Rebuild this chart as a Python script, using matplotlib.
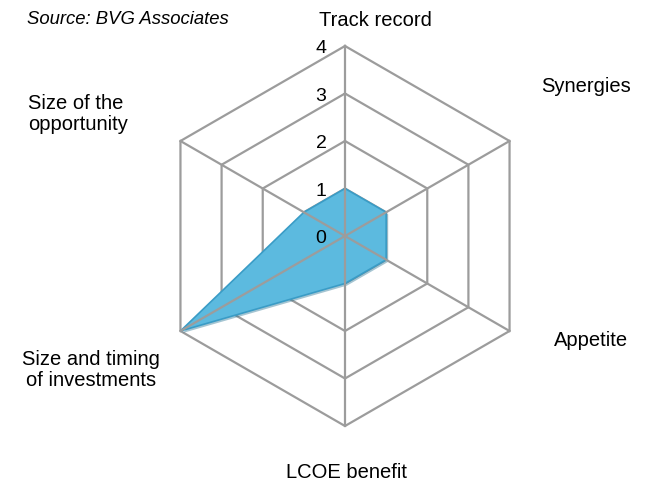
import numpy as np
import matplotlib.pyplot as plt
from matplotlib import patheffects

categories = ['Track record', 'Synergies', 'Appetite', 'LCOE benefit',
              'Size and timing\nof investments', 'Size of the\nopportunity']
scores = [1, 1, 1, 1, 4, 1]
rings = [1, 2, 3, 4]
ring_labels = ['0', '1', '2', '3', '4']

plt.rcParams['font.family'] = ['Liberation Sans', 'DejaVu Sans']

W, H = 646, 484
fig = plt.figure(figsize=(W / 100, H / 100), dpi=100)

# polar axes placed so the centre / outer ring match the reference
cx, cy, R = 345, 236, 190
ax = fig.add_axes([(cx - R) / W, (H - cy - R) / H, 2 * R / W, 2 * R / H],
                  projection='polar')
ax.set_theta_zero_location('N')
ax.set_theta_direction(-1)
ax.set_ylim(0, 4)
ax.axis('off')

angles = np.linspace(0, 2 * np.pi, len(categories), endpoint=False)
closed = np.append(angles, angles[0])
vals = scores + scores[:1]

poly = ax.fill(closed, vals, facecolor='#5cbadf', edgecolor='#3a9cc6',
               lw=1.2, zorder=2)[0]
poly.set_path_effects([
    patheffects.SimplePatchShadow(offset=(1.5, -1.5), shadow_rgbFace='#1f6f90', alpha=0.4),
    patheffects.Normal()])

# hexagonal grid: rings sit under the fill, spokes on top of it
grid_kw = dict(color='#9c9c9c', lw=1.6, clip_on=False)
for r in rings:
    ax.plot(closed, [r] * len(closed), zorder=1, **grid_kw)
for a in angles:
    ax.plot([a, a], [0, rings[-1]], zorder=3, **grid_kw)

# ring value labels next to the vertical spoke
for i, lab in enumerate(ring_labels):
    ax.annotate(lab, xy=(0, i), xytext=(-24, -3), textcoords='offset pixels',
                ha='center', va='center', fontsize=14, annotation_clip=False)

# category labels
def px(x, y):
    return x / W, 1 - y / H

lab_pos = [(375, 20, 'center'), (586, 87, 'center'), (591, 341, 'center'),
           (347, 472, 'center'), (91, 370, 'center'), (28, 114, 'left')]
for name, (x, y, ha) in zip(categories, lab_pos):
    fig.text(*px(x, y), name, ha=ha, va='center', fontsize=14.5,
             linespacing=1.1, multialignment=ha)

fig.text(*px(27, 20), 'Source: BVG Associates', ha='left', va='center',
         fontsize=13.3, style='italic')

fig.savefig('out.png', dpi=100, facecolor='white')
